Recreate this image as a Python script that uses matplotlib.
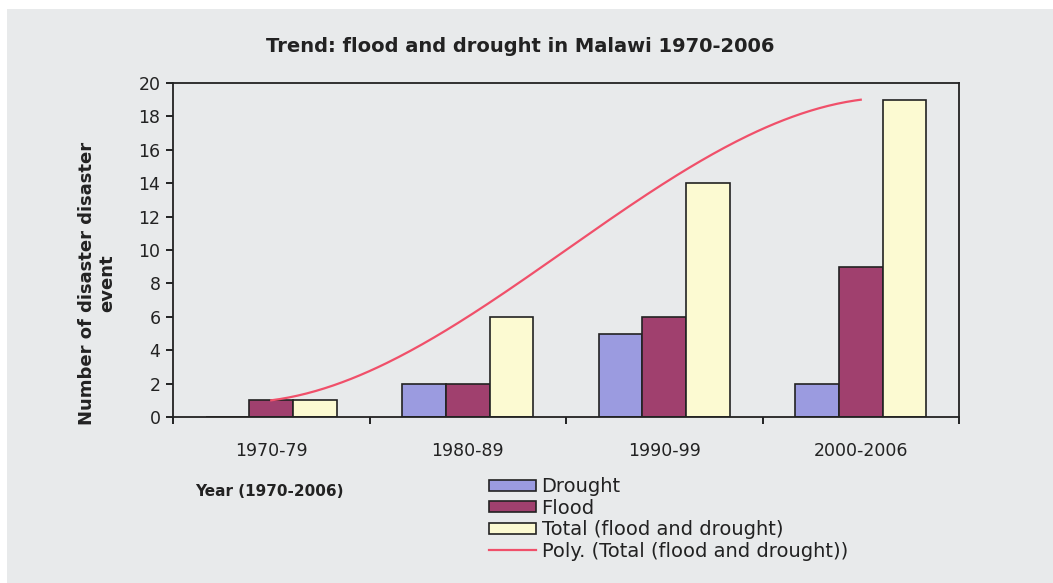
import numpy as np
import matplotlib
matplotlib.use("Agg")
import matplotlib.pyplot as plt
from matplotlib.patches import Rectangle

categories = ["1970-79", "1980-89", "1990-99", "2000-2006"]
drought = [0, 2, 5, 2]
flood = [1, 2, 6, 9]
total = [1, 6, 14, 19]
yticks = list(range(0, 21, 2))

FONT = "DejaVu Sans"
TXT = "#222222"
BG = "#e8eaeb"
fig = plt.figure(figsize=(10.53, 5.83), dpi=100, facecolor=BG)
# white strips at top and left of the scanned image
fig.patches.append(Rectangle((0, 1 - 9 / 583), 1, 9 / 583, transform=fig.transFigure,
                             facecolor="white", edgecolor="none", zorder=-1))
fig.patches.append(Rectangle((0, 0), 7 / 1053, 1, transform=fig.transFigure,
                             facecolor="white", edgecolor="none", zorder=-1))

ax = fig.add_axes([173 / 1053, 1 - 417 / 583, (959 - 173) / 1053, (417 - 83) / 583])
ax.set_facecolor(BG)

x = np.arange(len(categories))
w = 1 / 4.5
b1 = ax.bar(x - w, drought, w, color="#9b9be0", edgecolor=TXT, linewidth=1.2, label="Drought")
b2 = ax.bar(x, flood, w, color="#a0406e", edgecolor=TXT, linewidth=1.2, label="Flood")
b3 = ax.bar(x + w, total, w, color="#fcfad2", edgecolor=TXT, linewidth=1.2,
            label="Total (flood and drought)")

coef = np.polyfit(x, total, 3)
xs = np.linspace(x[0], x[-1], 200)
ln, = ax.plot(xs, np.polyval(coef, xs), color="#f0506a", linewidth=1.6,
              label="Poly. (Total (flood and drought))")

ax.set_xlim(-0.5, len(categories) - 0.5)
ax.set_ylim(0, 20)
ax.set_yticks(yticks)
ax.set_yticklabels([str(t) for t in yticks], fontsize=12.5, family=FONT, color=TXT)
ax.set_xticks(x)
ax.set_xticklabels(categories, fontsize=12.5, family=FONT, color=TXT)
ax.tick_params(axis="x", length=0, pad=18)
ax.set_xticks(np.arange(-0.5, len(categories)), minor=True)
ax.tick_params(axis="x", which="minor", length=5, width=1.2, direction="out")
ax.tick_params(axis="y", length=5, width=1.2, direction="out", pad=4)
for s in ax.spines.values():
    s.set_linewidth(1.3)
    s.set_color(TXT)

fig.text(520 / 1053, 1 - 47 / 583, "Trend: flood and drought in Malawi 1970-2006",
         ha="center", va="center", fontsize=14, fontweight="bold", family=FONT, color=TXT)
fig.text(97 / 1053, 1 - 283 / 583, "Number of disaster disaster\nevent", rotation=90,
         ha="center", va="center", fontsize=13, fontweight="bold",
         family=FONT, color=TXT, linespacing=1.15)
fig.text(269 / 1053, 1 - 492 / 583, "Year (1970-2006)", ha="center", va="center",
         fontsize=11, fontweight="bold", family=FONT, color=TXT)

leg = fig.legend(handles=[b1, b2, b3, ln], loc="upper left",
                 bbox_to_anchor=(489 / 1053, 1 - 477 / 583),
                 frameon=False, prop={"family": FONT, "size": 14},
                 handlelength=2.4, handleheight=0.5, handletextpad=0.3,
                 labelspacing=0.13, borderpad=0, borderaxespad=0)
for t in leg.get_texts():
    t.set_color(TXT)

fig.savefig("out.png", dpi=100, facecolor=BG)
